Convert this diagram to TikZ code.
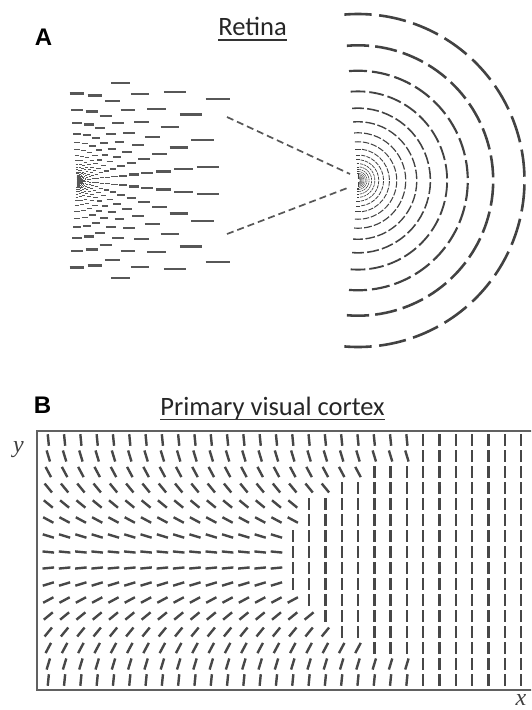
\documentclass[tikz,border=0pt]{standalone}
\usepackage{fontspec}
\setmainfont{Carlito}
\newfontfamily\labfont{Liberation Sans}
\newfontfamily\axfont{Liberation Serif}
\begin{document}
\begin{tikzpicture}[x=1pt,y=-1pt,
  retdash/.style={black!66, line cap=butt},
  arcdash/.style={black!74, line cap=butt},
  vbar/.style={black!72, line width=2.4pt, line cap=butt},
  conn/.style={black!66, line width=1.7pt, dash pattern=on 7pt off 4pt},
  frame/.style={black!62, line width=2.2pt},
  title/.style={font=\fontsize{26.5}{30}\selectfont, anchor=base, inner sep=0pt, text=black!85},
  panel/.style={font=\labfont\bfseries\fontsize{24}{26}\selectfont, anchor=base, inner sep=0pt},
  axis/.style={font=\axfont\itshape\fontsize{24}{26}\selectfont, anchor=base, inner sep=0pt, text=black!75}]
\useasboundingbox (0,0) rectangle (531,710);
\clip (0,0) rectangle (531,710);

% ---------- Panel A: left pattern (horizontal bars on log-polar grid)
\foreach \k in {0,...,26}{
  \pgfmathsetmacro\rad{200*0.812^\k}
  \pgfmathsetmacro\dlen{min(0.17*\rad,24)}
  \pgfmathsetmacro\lwid{max(0.35,min(2.2,0.04*\rad))}
  \foreach \j in {0,...,15}{
    \pgfmathsetmacro\px{77+\rad*cos(90-12*\j)}
    \pgfmathsetmacro\py{180.5-\rad*sin(90-12*\j)}
    \pgfmathtruncatemacro\ok{(\px<=226)&&(\py>=79)&&(\py<=283)}
    \ifnum\ok=1
      \draw[retdash, line width=\lwid pt] (\px-\dlen/2,\py) -- (\px+\dlen/2,\py);
    \fi
  }
}

% ---------- Panel A: right pattern (concentric dashed semicircles)
\coordinate (cen) at (358,180.5);
\foreach \k in {0,...,21}{
  \pgfmathsetmacro\rad{166.5*0.812^\k}
  \pgfmathsetmacro\lwid{max(0.35,min(2.6,0.4+0.016*\rad))}
  \foreach \j in {0,...,15}{
    \pgfmathsetmacro\angA{90-12*\j-4.7}
    \draw[arcdash, line width=\lwid pt] (cen) ++(\angA:\rad) arc[start angle=\angA, end angle=\angA+9.4, radius=\rad];
  }
}

% connectors
\coordinate (lt) at (227,117);
\coordinate (lb) at (227,234);
\coordinate (rt) at (350,174);
\coordinate (rb) at (350,187);
\draw[conn] (lt) -- (rt);
\draw[conn] (lb) -- (rb);

% titles A
\node[panel] (labA) at (43.5,45) {A};
\node[title] (ret) at (252.5,35) {Retina};
\draw[black!80, line width=1.4pt] ([yshift=-5pt]ret.base west) -- ([yshift=-5pt]ret.base east);

% ---------- Panel B
\node[panel] (labB) at (42.5,413) {B};
\node[title] (pvc) at (272.5,415) {Primary visual cortex};
\draw[black!80, line width=1.4pt] ([yshift=-4.5pt]pvc.base west) -- ([yshift=-4.5pt]pvc.base east);

\draw[frame] (37,431) rectangle (560,690);

\foreach \i in {0,...,15}{
  \pgfmathsetmacro\th{90-(\i+0.5)*11.25}
  \pgfmathtruncatemacro\clim{{22,22,19,17,15,15,14,14,14,14,15,16,17,19,22,22}[\i]}
  \foreach \c in {0,...,29}{
    \pgfmathsetmacro\ang{ifthenelse(\c<=\clim,\th,90)}
    \pgfmathsetmacro\bx{48.3+16.3*\c}
    \pgfmathsetmacro\by{440+16*\i}
    \draw[vbar] (\bx,\by) ++(\ang+180:5.8) -- ++(\ang:11.6);
  }
}

\node[axis] (ylab) at (18.5,452) {y};
\node[axis] (xlab) at (521,705) {x};
\end{tikzpicture}
\end{document}
